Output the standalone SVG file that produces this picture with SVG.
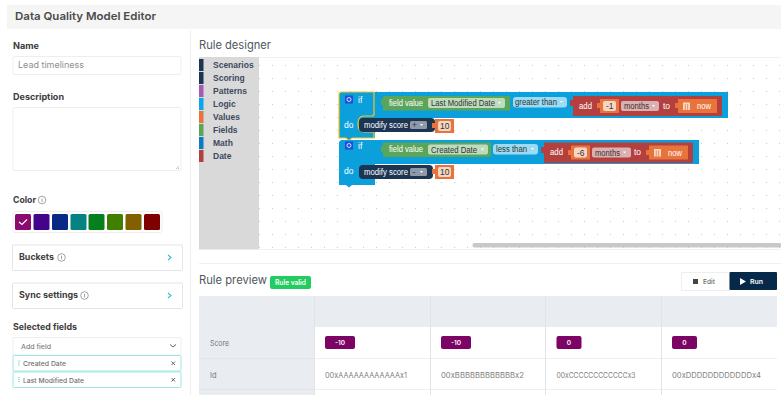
<svg xmlns="http://www.w3.org/2000/svg" width="781" height="402" viewBox="0 0 781 402">
<style>
text{font-family:"Inter","Open Sans","Liberation Sans",sans-serif}
.lbl{font-size:9px;font-weight:700;fill:#3c3c3c}
.in{fill:#fff;stroke:#eeeeee;stroke-width:1}
.card{fill:#fff;stroke:#e4e4e4;stroke-width:1}
.cat{font-family:"Liberation Sans",Arial,sans-serif;font-size:8.500px;font-weight:700;fill:#3d4a60}
.b{font-family:"Liberation Sans",Arial,sans-serif;font-size:8.500px;fill:#fff}
.d{font-family:"Liberation Sans",Arial,sans-serif;font-size:8.500px;fill:#333}
.th{font-size:7.500px;fill:#777}
.td{font-size:7.500px;fill:#808080}
.badge{fill:#7b0464}
.bt{font-size:6.500px;font-weight:600;fill:#fff;text-anchor:middle}
.info{fill:none;stroke:#666;stroke-width:.6}
.chev{fill:none;stroke:#33bfdc;stroke-width:1.100}
.logic{fill:#0b9fdc}
.green{fill:#5ba55b}
.red{fill:#b3403f}
.navy{fill:#1b3553}
.orange{fill:#e8743b}
.pgreen{fill:#bddbbd}
.pred{fill:#dbb0b0}
.pblue{fill:#9bdcf4}
.pnavy{fill:#8f9aa8}
.field{fill:#f6d7c5}
</style>
<defs>
<pattern id="dots" x="259" y="65" width="13" height="13" patternUnits="userSpaceOnUse"><rect width="1" height="1" fill="#c9c9c9"/></pattern>
</defs>
<rect width="781" height="402" fill="#fff"/>
<g id="header"><rect x="7" y="5" width="774" height="24" fill="#f5f5f5"/><text x="15" y="20" font-size="11" font-weight="600" fill="#4a4a4a" textLength="141" lengthAdjust="spacingAndGlyphs">Data Quality Model Editor</text></g>
<rect x="190" y="30" width="1" height="365" fill="#eceef0"/>
<g id="name-field"><text class="lbl" x="13" y="49" textLength="26" lengthAdjust="spacingAndGlyphs">Name</text><rect class="in" x="13" y="56.500" width="168" height="18" rx="2"/><text x="18" y="68" font-size="8.500" fill="#909090" textLength="66" lengthAdjust="spacingAndGlyphs">Lead timeliness</text></g>
<g id="description-field"><text class="lbl" x="13" y="100" textLength="51" lengthAdjust="spacingAndGlyphs">Description</text><rect class="in" x="13" y="107.500" width="168" height="63" rx="2"/><path d="M176 169l3-3M178 169l1-1" stroke="#999" stroke-width=".6"/></g>
<g id="color-field"><text class="lbl" x="13" y="203" textLength="23" lengthAdjust="spacingAndGlyphs">Color</text><circle class="info" cx="42" cy="200" r="3.800"/><path d="M42 198.500v3.500" stroke="#666" stroke-width=".6"/>
<rect class="in" x="13" y="211.500" width="149" height="21" rx="2"/>
<rect x="15" y="214" width="16" height="16" rx="1.500" fill="#8a0a6e"/><path d="M19 222l3 2.500 5-5" fill="none" stroke="#fff" stroke-width="1.200"/>
<rect x="33.500" y="214" width="16" height="16" rx="1.500" fill="#43048a"/><rect x="52" y="214" width="16" height="16" rx="1.500" fill="#082a86"/><rect x="70.500" y="214" width="16" height="16" rx="1.500" fill="#058282"/><rect x="88.500" y="214" width="16" height="16" rx="1.500" fill="#067f1f"/><rect x="107" y="214" width="16" height="16" rx="1.500" fill="#417f00"/><rect x="125.500" y="214" width="16" height="16" rx="1.500" fill="#826000"/><rect x="144" y="214" width="16" height="16" rx="1.500" fill="#7f0000"/></g>
<g id="buckets"><rect class="card" x="12.500" y="245" width="170" height="25.500" rx="1"/><text class="lbl" x="19" y="260" textLength="35" lengthAdjust="spacingAndGlyphs">Buckets</text><circle class="info" cx="61.500" cy="257.500" r="3.800"/><path d="M61.500 255.800v3.500" stroke="#666" stroke-width=".6"/><path class="chev" d="M168 255l3 2.500-3 2.500"/></g>
<g id="sync-settings"><rect class="card" x="12.500" y="283" width="170" height="25.500" rx="1"/><text class="lbl" x="19" y="298" textLength="59" lengthAdjust="spacingAndGlyphs">Sync settings</text><circle class="info" cx="84.500" cy="295.500" r="3.800"/><path d="M84.500 293.800v3.500" stroke="#666" stroke-width=".6"/><path class="chev" d="M168 293l3 2.500-3 2.500"/></g>
<g id="selected-fields"><text class="lbl" x="13" y="330" textLength="64" lengthAdjust="spacingAndGlyphs">Selected fields</text>
<rect class="in" x="13" y="337.500" width="168" height="17.500" rx="1"/><text x="21" y="348.500" font-size="6.500" font-weight="500" fill="#808080" textLength="30" lengthAdjust="spacingAndGlyphs">Add field</text><path d="M170 344.500l3 2.500 3-2.500" fill="none" stroke="#555" stroke-width=".9"/>
<rect x="13" y="355.500" width="168" height="15.500" rx="1" fill="#fff" stroke="#9fe6e6"/><path d="M19 360.500v6" stroke="#35c5cc" stroke-width="1" stroke-dasharray="1 1"/><text x="23" y="366" font-size="6.500" font-weight="500" fill="#707070" textLength="43" lengthAdjust="spacingAndGlyphs">Created Date</text><path d="M171.500 361.500l3.500 3.500m0-3.500l-3.500 3.500" stroke="#666" stroke-width="1"/>
<rect x="13" y="372" width="168" height="15.500" rx="1" fill="#fff" stroke="#9fe6e6"/><path d="M19 377v6" stroke="#35c5cc" stroke-width="1" stroke-dasharray="1 1"/><text x="23" y="382.500" font-size="6.500" font-weight="500" fill="#707070" textLength="61" lengthAdjust="spacingAndGlyphs">Last Modified Date</text><path d="M171.500 378l3.500 3.500m0-3.500l-3.500 3.500" stroke="#666" stroke-width="1"/></g>

<g id="rule-designer"><text x="199" y="49" font-size="11.500" fill="#505860" textLength="72" lengthAdjust="spacingAndGlyphs">Rule designer</text>
<rect x="259" y="57" width="522" height="192" fill="url(#dots)"/>
<path d="M259 57.500H781M259 249.500H781" stroke="#f2f2f2"/>
<rect x="472.500" y="243" width="309" height="4.500" rx="2" fill="#c8c8c8"/>
<rect x="199" y="57" width="60" height="192.500" fill="#d9d9d9"/>
<g id="toolbox">
<rect x="199" y="59" width="4.500" height="12" fill="#1b3553"/><text class="cat" x="213" y="68">Scenarios</text>
<rect x="199" y="72" width="4.500" height="12" fill="#1b3553"/><text class="cat" x="213" y="81">Scoring</text>
<rect x="199" y="85" width="4.500" height="12" fill="#a55bb5"/><text class="cat" x="213" y="94">Patterns</text>
<rect x="199" y="98" width="4.500" height="12" fill="#0ba5e9"/><text class="cat" x="213" y="107">Logic</text>
<rect x="199" y="111" width="4.500" height="12" fill="#e8743b"/><text class="cat" x="213" y="120">Values</text>
<rect x="199" y="124" width="4.500" height="12" fill="#5ba55b"/><text class="cat" x="213" y="133">Fields</text>
<rect x="199" y="137" width="4.500" height="12" fill="#0a7cc4"/><text class="cat" x="213" y="146">Math</text>
<rect x="199" y="150" width="4.500" height="12" fill="#b3403f"/><text class="cat" x="213" y="159">Date</text>
</g>
<g id="block-1">
<path class="logic" d="M341 92H728V118H375V138H352l-3 2.500-3-2.500H339V94z"/>
<path d="M339 94q0-2 2-2H374V114q0 2-2 2H364q-6 0-6 8t6 8H372q2 0 2 2V138H352l-3 2.500-3-2.500H339z" fill="none" stroke="#f5c518" stroke-width="1.200"/>
<rect x="345" y="95.500" width="8" height="8" fill="#1c4fe0"/><circle cx="349" cy="99.500" r="2" fill="none" stroke="#fff" stroke-width=".8"/>
<text class="b" x="358" y="102.500">if</text>
<text class="b" x="344" y="128">do</text>
<g id="field-1"><rect class="green" x="383" y="96" width="127" height="14.500"/><path class="green" d="M381 99h2v6h-2z"/><text class="b" x="389" y="105.800" textLength="34" lengthAdjust="spacingAndGlyphs">field value</text><rect class="pgreen" x="428" y="98" width="77" height="10" rx="2"/><text class="d" x="431" y="106" textLength="64" lengthAdjust="spacingAndGlyphs">Last Modified Date</text><path d="M498 102l3 0-1.500 2z" fill="#fff"/></g>
<g id="op-1"><rect class="pblue" x="513" y="97" width="54" height="10.500" rx="3"/><text class="d" x="515" y="105.300" textLength="42" lengthAdjust="spacingAndGlyphs" fill="#444">greater than</text><path d="M560 101l3 0-1.500 2z" fill="#fff"/></g>
<g id="add-1"><rect class="red" x="573" y="96" width="149" height="20"/><path class="red" d="M570 100h3v6h-3z"/><text class="b" x="579" y="108.800" textLength="13" lengthAdjust="spacingAndGlyphs">add</text>
<rect class="orange" x="600" y="99" width="19" height="14"/><path class="orange" d="M597 103h3v5h-3z"/><rect class="field" x="603" y="101" width="13" height="10" rx="2"/><text class="d" x="606" y="109">-1</text>
<rect class="pred" x="621" y="101" width="38" height="10" rx="2"/><text class="d" x="624" y="109" textLength="25" lengthAdjust="spacingAndGlyphs">months</text><path d="M652 105l3 0-1.500 2z" fill="#fff"/>
<text class="b" x="663" y="108.800">to</text>
<rect class="orange" x="678" y="99" width="39" height="14"/><path class="orange" d="M675 103h3v5h-3z"/><rect x="683" y="102.500" width="7" height="7.500" fill="#f6d7c5"/><path d="M685.300 104v6M687.600 104v6" stroke="#e8743b" stroke-width=".7"/><text class="b" x="697" y="109" textLength="14" lengthAdjust="spacingAndGlyphs">now</text></g>
<g id="score-1"><rect class="navy" x="359" y="118" width="76" height="14" rx="4"/><text class="b" x="364" y="128" textLength="44" lengthAdjust="spacingAndGlyphs">modify score</text><rect class="pnavy" x="410" y="121" width="17" height="8" rx="1.500"/><text class="d" x="412" y="127.500" fill="#fff">+</text><path d="M420 124l3 0-1.500 2z" fill="#fff"/>
<rect class="orange" x="435" y="119" width="19" height="14"/><path class="orange" d="M432 123h3v5h-3z"/><rect class="field" x="438" y="121" width="13" height="10" rx="2"/><text class="d" x="440" y="129">10</text></g>
</g>
<g id="block-2">
<path class="logic" d="M341 140H699V164H375V185H352l-3 2.500-3-2.500H339V142z"/>
<rect x="345" y="141.500" width="8" height="8" fill="#1c4fe0"/><circle cx="349" cy="145.500" r="2" fill="none" stroke="#fff" stroke-width=".8"/>
<text class="b" x="358" y="148.500">if</text>
<text class="b" x="344" y="174">do</text>
<g id="field-2"><rect class="green" x="383" y="142.500" width="108" height="14.500"/><path class="green" d="M381 146h2v6h-2z"/><text class="b" x="389" y="152.300" textLength="34" lengthAdjust="spacingAndGlyphs">field value</text><rect class="pgreen" x="428" y="144.500" width="60" height="10" rx="2"/><text class="d" x="431" y="152.500" textLength="46" lengthAdjust="spacingAndGlyphs">Created Date</text><path d="M481 148.500l3 0-1.500 2z" fill="#fff"/></g>
<g id="op-2"><rect class="pblue" x="493" y="144" width="45" height="10.500" rx="3"/><text class="d" x="496" y="152.300" textLength="31" lengthAdjust="spacingAndGlyphs" fill="#444">less than</text><path d="M531 148l3 0-1.500 2z" fill="#fff"/></g>
<g id="add-2"><rect class="red" x="544" y="142.500" width="149" height="20.500"/><path class="red" d="M541 147h3v6h-3z"/><text class="b" x="550" y="155.300" textLength="13" lengthAdjust="spacingAndGlyphs">add</text>
<rect class="orange" x="571" y="145.500" width="19" height="14"/><path class="orange" d="M568 150h3v5h-3z"/><rect class="field" x="574" y="147.500" width="13" height="10" rx="2"/><text class="d" x="577" y="155.500">-6</text>
<rect class="pred" x="592" y="147.500" width="39" height="10" rx="2"/><text class="d" x="595" y="155.500" textLength="25" lengthAdjust="spacingAndGlyphs">months</text><path d="M623 151.500l3 0-1.500 2z" fill="#fff"/>
<text class="b" x="634" y="155.300">to</text>
<rect class="orange" x="649" y="145.500" width="39" height="14"/><path class="orange" d="M646 150h3v5h-3z"/><rect x="654" y="149" width="7" height="7.500" fill="#f6d7c5"/><path d="M656.300 150.500v6M658.600 150.500v6" stroke="#e8743b" stroke-width=".7"/><text class="b" x="668" y="155.500" textLength="14" lengthAdjust="spacingAndGlyphs">now</text></g>
<g id="score-2"><rect class="navy" x="359" y="165" width="74" height="14" rx="4"/><text class="b" x="364" y="175" textLength="44" lengthAdjust="spacingAndGlyphs">modify score</text><rect class="pnavy" x="410" y="168" width="17" height="8" rx="1.500"/><text class="d" x="412.500" y="174.500" fill="#fff">-</text><path d="M420 171l3 0-1.500 2z" fill="#fff"/>
<rect class="orange" x="435" y="165" width="19" height="14"/><path class="orange" d="M432 169h3v5h-3z"/><rect class="field" x="438" y="167" width="13" height="10" rx="2"/><text class="d" x="440" y="175">10</text></g>
</g>
</g>
<path d="M199 263.500H781" stroke="#eef0f2"/>
<g id="rule-preview"><text x="199" y="284" font-size="11.500" fill="#505860" textLength="68" lengthAdjust="spacingAndGlyphs">Rule preview</text>
<rect x="270" y="276" width="41" height="13" rx="2" fill="#22cc60"/><text x="290.500" y="285" font-size="7" font-weight="600" fill="#fff" text-anchor="middle" textLength="31" lengthAdjust="spacingAndGlyphs">Rule valid</text>
<g id="edit-button"><rect x="681.500" y="272.500" width="48" height="18" fill="#fff" stroke="#eeeeee"/><rect x="693" y="279" width="5" height="5" fill="#444"/><text x="703" y="283.800" font-size="6.500" font-weight="500" fill="#666" textLength="12" lengthAdjust="spacingAndGlyphs">Edit</text></g>
<g id="run-button"><rect x="729.500" y="272" width="47.500" height="18" rx="1" fill="#06294a"/><path d="M740 278l6 3.500-6 3.500z" fill="#fff"/><text x="750" y="283.800" font-size="6.500" font-weight="600" fill="#fff" textLength="13" lengthAdjust="spacingAndGlyphs">Run</text></g>
<g id="preview-table">
<rect x="199" y="296" width="578" height="99" fill="#fff"/>
<rect x="199" y="296" width="578" height="31" fill="#e9ecf0"/>
<rect x="199" y="327" width="115" height="68" fill="#e9ecf0"/>
<path d="M199 358.500H314M199 389.500H314" stroke="#e0e4e8"/>
<path d="M314 358.500H777M314 389.500H777" stroke="#eef0f2"/>
<path d="M314.500 296V395M430.500 296V395M545.500 296V395M661.500 296V395" stroke="#e0e4e8"/>
<text class="th" x="210" y="345.500" textLength="19" lengthAdjust="spacingAndGlyphs">Score</text>
<text class="th" x="210" y="377.500">Id</text>
<rect class="badge" x="325" y="336" width="30" height="13" rx="2"/><text class="bt" x="340" y="345">-10</text>
<rect class="badge" x="441" y="336" width="30" height="13" rx="2"/><text class="bt" x="456" y="345">-10</text>
<rect class="badge" x="556.500" y="336" width="25" height="13" rx="2"/><text class="bt" x="569" y="345">0</text>
<rect class="badge" x="672" y="336" width="25" height="13" rx="2"/><text class="bt" x="684.500" y="345">0</text>
<text class="td" x="325" y="377.500" textLength="82" lengthAdjust="spacingAndGlyphs">00xAAAAAAAAAAAAx1</text>
<text class="td" x="441" y="377.500" textLength="83" lengthAdjust="spacingAndGlyphs">00xBBBBBBBBBBBBx2</text>
<text class="td" x="556.500" y="377.500" textLength="79" lengthAdjust="spacingAndGlyphs">00xCCCCCCCCCCCCx3</text>
<text class="td" x="672" y="377.500" textLength="89" lengthAdjust="spacingAndGlyphs">00xDDDDDDDDDDDDx4</text>
</g></g>
</svg>
